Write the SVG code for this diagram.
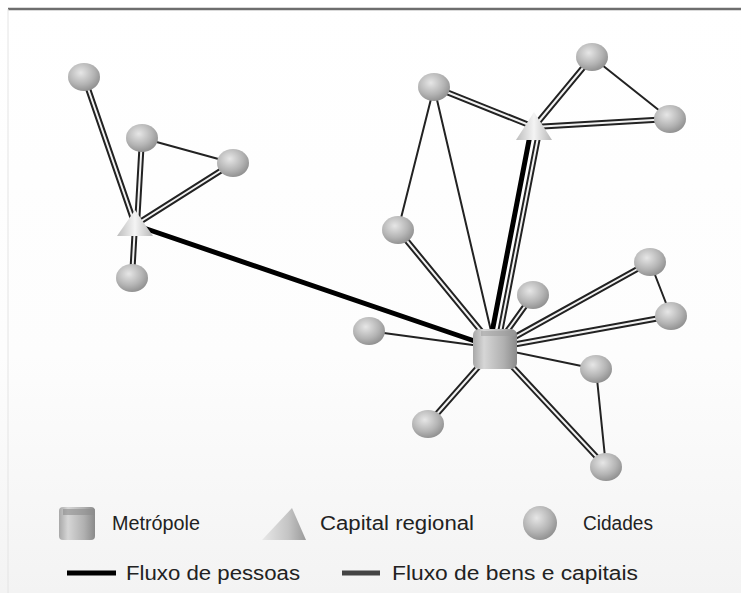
<svg xmlns="http://www.w3.org/2000/svg" width="741" height="593" viewBox="0 0 741 593">
<defs>
<radialGradient id="gc" cx="0.4" cy="0.35" r="0.7">
<stop offset="0" stop-color="#e6e6e6"/><stop offset="0.6" stop-color="#b4b4b4"/><stop offset="1" stop-color="#8c8c8c"/>
</radialGradient>
<linearGradient id="gm" x1="0" y1="0" x2="1" y2="0">
<stop offset="0" stop-color="#a8a8a8"/><stop offset="0.25" stop-color="#d6d6d6"/><stop offset="0.7" stop-color="#b0b0b0"/><stop offset="1" stop-color="#8a8a8a"/>
</linearGradient>
<linearGradient id="gt" x1="0" y1="0" x2="1" y2="0">
<stop offset="0" stop-color="#bdbdbd"/><stop offset="0.5" stop-color="#f4f4f4"/><stop offset="1" stop-color="#b8b8b8"/>
</linearGradient>
<linearGradient id="gtl" x1="0" y1="0" x2="1" y2="0">
<stop offset="0" stop-color="#e8e8e8"/><stop offset="0.6" stop-color="#c4c4c4"/><stop offset="1" stop-color="#9a9a9a"/>
</linearGradient>
<linearGradient id="gbg" x1="0" y1="0" x2="0" y2="1">
<stop offset="0" stop-color="#ffffff"/><stop offset="0.6" stop-color="#fdfdfd"/><stop offset="1" stop-color="#f3f3f3"/>
</linearGradient>
<style>
.dbl{stroke:#222;stroke-width:6;fill:none}
.dblc{stroke:#f2f2f2;stroke-width:2;fill:none}
.thin{stroke:#222;stroke-width:2;fill:none}
.thick{stroke:#000;stroke-width:5;fill:none}
.city{fill:url(#gc)}
.t{font-family:"Liberation Sans",Arial,sans-serif;font-size:20px;fill:#222}
</style>
</defs>
<rect width="741" height="593" fill="url(#gbg)"/>
<line x1="8" y1="9" x2="741" y2="9" stroke="#6e6e6e" stroke-width="2.5"/>
<line x1="8" y1="9" x2="8" y2="593" stroke="#e4e4e4" stroke-width="1"/>
<g id="connectors">
<g class="dbl">
<path d="M84 77L135 225M142 138L137 225M233 163L135 225M135 225L132 278M434 87L534 127M592 57L534 127M534 127L670 119M398 230L495 348M533 295L495 348M650 262L495 348M671 316L495 348M428 424L495 348M606 467L495 348M540 127L497 348"/>
</g>
<g class="dblc">
<path d="M84 77L135 225M142 138L137 225M233 163L135 225M135 225L132 278M434 87L534 127M592 57L534 127M534 127L670 119M398 230L495 348M533 295L495 348M650 262L495 348M671 316L495 348M428 424L495 348M606 467L495 348M540 127L497 348"/>
</g>
<g class="thin">
<path d="M142 138L233 163M592 57L670 119M434 87L398 230M434 87L495 348M650 262L671 316M369 331L495 348M596 369L495 348M596 369L606 467"/>
</g>
<g class="thick">
<path d="M135 225L495 348M531 130L489 348"/>
</g>
</g>
<g id="C1"><ellipse class="city" cx="84" cy="77" rx="16" ry="14"/></g>
<g id="C2"><ellipse class="city" cx="142" cy="138" rx="16" ry="14"/></g>
<g id="C3"><ellipse class="city" cx="233" cy="163" rx="16" ry="14"/></g>
<g id="C4"><ellipse class="city" cx="132" cy="278" rx="16" ry="14"/></g>
<g id="C5"><ellipse class="city" cx="434" cy="87" rx="16" ry="14"/></g>
<g id="C6"><ellipse class="city" cx="592" cy="57" rx="16" ry="14"/></g>
<g id="C7"><ellipse class="city" cx="670" cy="119" rx="16" ry="14"/></g>
<g id="C8"><ellipse class="city" cx="398" cy="230" rx="16" ry="14"/></g>
<g id="C9"><ellipse class="city" cx="533" cy="295" rx="16" ry="14"/></g>
<g id="C10"><ellipse class="city" cx="650" cy="262" rx="16" ry="14"/></g>
<g id="C11"><ellipse class="city" cx="671" cy="316" rx="16" ry="14"/></g>
<g id="C12"><ellipse class="city" cx="369" cy="331" rx="16" ry="14"/></g>
<g id="C13"><ellipse class="city" cx="596" cy="369" rx="16" ry="14"/></g>
<g id="C14"><ellipse class="city" cx="428" cy="424" rx="16" ry="14"/></g>
<g id="C15"><ellipse class="city" cx="606" cy="467" rx="16" ry="14"/></g>
<g id="T1"><polygon points="135,210 153,236 117,236" fill="url(#gt)"/></g>
<g id="T2"><polygon points="534,112 552,140 516,140" fill="url(#gt)"/></g>
<g id="M"><rect x="473" y="329" width="44" height="40" rx="6" fill="url(#gm)"/><rect x="481" y="331" width="34" height="5" fill="#9a9a9a" opacity="0.5"/></g>
<g id="legend">
<rect x="59" y="507" width="36" height="33" rx="4" fill="url(#gm)"/>
<rect x="63" y="509" width="32" height="6" fill="#8c8c8c" opacity="0.6"/>
<text class="t" x="112" y="530" textLength="88" lengthAdjust="spacingAndGlyphs">Metrópole</text>
<polygon points="292,508 306,540 262,540" fill="url(#gtl)"/>
<text class="t" x="320" y="530" textLength="154" lengthAdjust="spacingAndGlyphs">Capital regional</text>
<ellipse class="city" cx="540" cy="523" rx="17" ry="17"/>
<text class="t" x="583" y="530" textLength="70" lengthAdjust="spacingAndGlyphs">Cidades</text>
<line x1="67" y1="573" x2="116" y2="573" stroke="#000" stroke-width="5"/>
<text class="t" x="126" y="580" textLength="174" lengthAdjust="spacingAndGlyphs">Fluxo de pessoas</text>
<line x1="342" y1="573" x2="380" y2="573" stroke="#444" stroke-width="5"/>
<text class="t" x="392" y="580" textLength="246" lengthAdjust="spacingAndGlyphs">Fluxo de bens e capitais</text>
</g>
</svg>
